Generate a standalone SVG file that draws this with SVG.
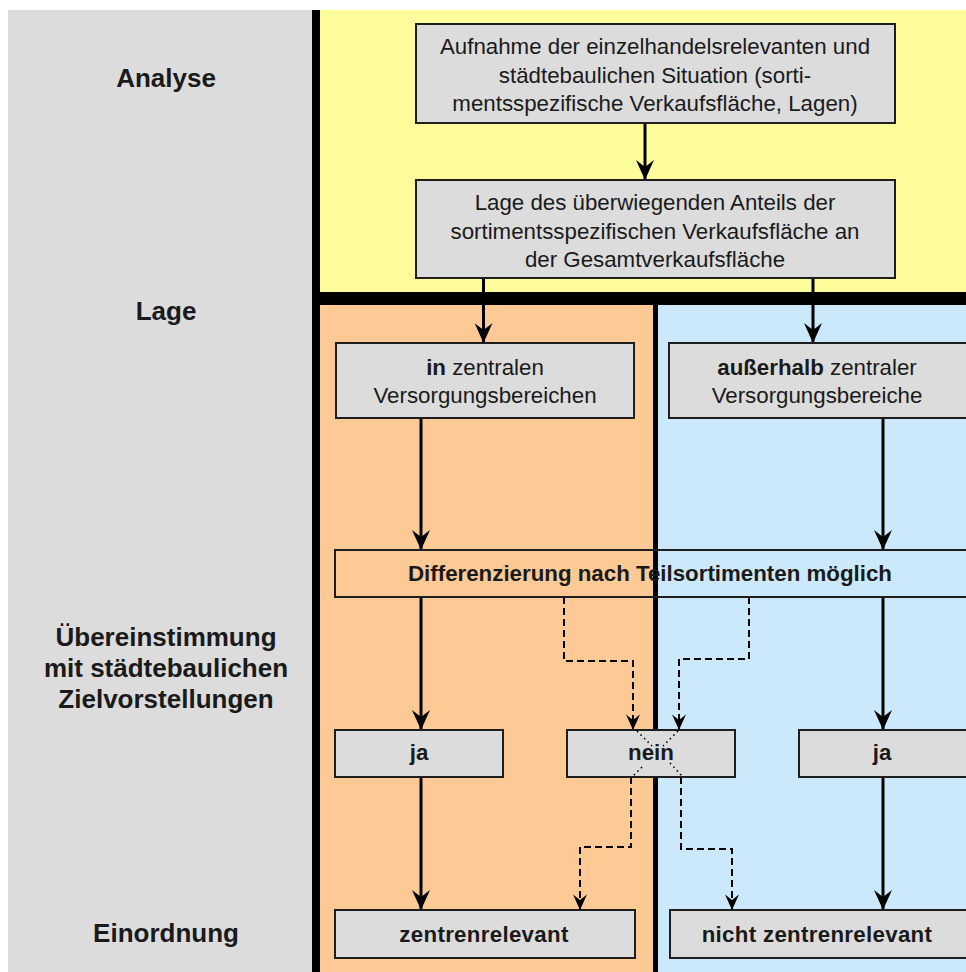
<svg xmlns="http://www.w3.org/2000/svg" width="966" height="972" viewBox="0 0 966 972">
<defs>
<style>
.box{fill:#dcdcdc;stroke:#1e1e1e;stroke-width:2}
.open{fill:none;stroke:#1e1e1e;stroke-width:2}
.t{font-family:"Liberation Sans",Arial,sans-serif;font-size:22.3px;fill:#1a1a1a;text-anchor:middle}
.b{font-weight:bold}
.lab{font-family:"Liberation Sans",Arial,sans-serif;font-size:26px;font-weight:bold;fill:#1a1a1a;text-anchor:middle}
.solid{fill:none;stroke:#000;stroke-width:3;marker-end:url(#ah)}
.dash{fill:none;stroke:#000;stroke-width:2;stroke-dasharray:7 4;marker-end:url(#ahs)}
.dot{fill:none;stroke:#000;stroke-width:1.6;stroke-dasharray:1.5 3.5}
</style>
<marker id="ah" viewBox="0 0 20 18" refX="20" refY="9" markerWidth="20" markerHeight="18" markerUnits="userSpaceOnUse" orient="auto">
<path d="M0,0 L20,9 L0,18 L7,9 z" fill="#000"/>
</marker>
<marker id="ahs" viewBox="0 0 20 18" refX="20" refY="9" markerWidth="16" markerHeight="14" markerUnits="userSpaceOnUse" orient="auto">
<path d="M0,0 L20,9 L0,18 L7,9 z" fill="#000"/>
</marker>
</defs>
<rect width="966" height="972" fill="#ffffff"/>
<g id="background">
<rect x="8" y="10" width="304" height="962" fill="#dcdcdc"/>
<rect x="320" y="10" width="646" height="282" fill="#fdfd9c"/>
<rect x="320" y="305" width="333" height="667" fill="#fdca96"/>
<rect x="658" y="305" width="308" height="667" fill="#cce9fb"/>
<rect x="312" y="10" width="8" height="962" fill="#000"/>
<rect x="320" y="292" width="646" height="13" fill="#000"/>
<rect x="653" y="305" width="5" height="667" fill="#000"/>
</g>
<g id="labels">
<text class="lab" x="166" y="87">Analyse</text>
<text class="lab" x="166" y="320">Lage</text>
<text class="lab" x="166" y="646">Übereinstimmung</text>
<text class="lab" x="166" y="677">mit städtebaulichen</text>
<text class="lab" x="166" y="708">Zielvorstellungen</text>
<text class="lab" x="166" y="942">Einordnung</text>
</g>
<g id="connectors">
<path class="solid" d="M645,123 V180"/>
<path class="solid" d="M483.5,278 V343"/>
<path class="solid" d="M813,278 V343"/>
<path class="solid" d="M421,418 V550"/>
<path class="solid" d="M883,418 V550"/>
<path class="solid" d="M421,597 V730"/>
<path class="solid" d="M883,597 V730"/>
<path class="dash" d="M564,597 V661 H633 V730"/>
<path class="dash" d="M749,597 V659 H679 V730"/>
<path class="solid" d="M421,777 V910"/>
<path class="solid" d="M883,777 V910"/>
<path class="dash" d="M631,777 V847 H580 V910"/>
<path class="dash" d="M681,777 V849 H732 V910"/>
</g>
<g id="n-aufnahme">
<rect class="box" x="416" y="24" width="479" height="99"/>
<text class="t" x="655" y="54">Aufnahme der einzelhandelsrelevanten und</text>
<text class="t" x="655" y="82.5">städtebaulichen Situation (sorti-</text>
<text class="t" x="655" y="111">mentsspezifische Verkaufsfläche, Lagen)</text>
</g>
<g id="n-lage">
<rect class="box" x="416" y="180" width="479" height="98"/>
<text class="t" x="655" y="210">Lage des überwiegenden Anteils der</text>
<text class="t" x="655" y="238.5">sortimentsspezifischen Verkaufsfläche an</text>
<text class="t" x="655" y="267">der Gesamtverkaufsfläche</text>
</g>
<g id="n-in">
<rect class="box" x="336" y="343" width="298" height="75"/>
<text class="t" x="485" y="375"><tspan class="b">in</tspan> zentralen</text>
<text class="t" x="485" y="403">Versorgungsbereichen</text>
</g>
<g id="n-ausserhalb">
<rect class="box" x="669" y="343" width="310" height="75"/>
<text class="t" x="817" y="375"><tspan class="b">außerhalb</tspan> zentraler</text>
<text class="t" x="817" y="403">Versorgungsbereiche</text>
</g>
<g id="n-differenzierung">
<rect class="open" x="335" y="550" width="645" height="47"/>
<text class="t b" x="650" y="581" font-size="23">Differenzierung nach Teilsortimenten möglich</text>
</g>
<g id="n-ja-links">
<rect class="box" x="335" y="730" width="168" height="47"/>
<text class="t b" x="419" y="760">ja</text>
</g>
<g id="n-nein">
<rect class="box" x="567" y="730" width="168" height="47"/>
<path class="dot" d="M637,731 L652,746 M678,731 L663,746 M642,767 L632,777 M670,763 L682,776"/>
<text class="t b" x="651" y="760">nein</text>
</g>
<g id="n-ja-rechts">
<rect class="box" x="799" y="730" width="180" height="47"/>
<text class="t b" x="882" y="760">ja</text>
</g>
<g id="n-zentrenrelevant">
<rect class="box" x="335" y="910" width="300" height="48"/>
<text class="t b" x="484" y="942" letter-spacing="0.3">zentrenrelevant</text>
</g>
<g id="n-nicht-zentrenrelevant">
<rect class="box" x="670" y="910" width="310" height="48"/>
<text class="t b" x="817" y="942" letter-spacing="0.3">nicht zentrenrelevant</text>
</g>
</svg>
